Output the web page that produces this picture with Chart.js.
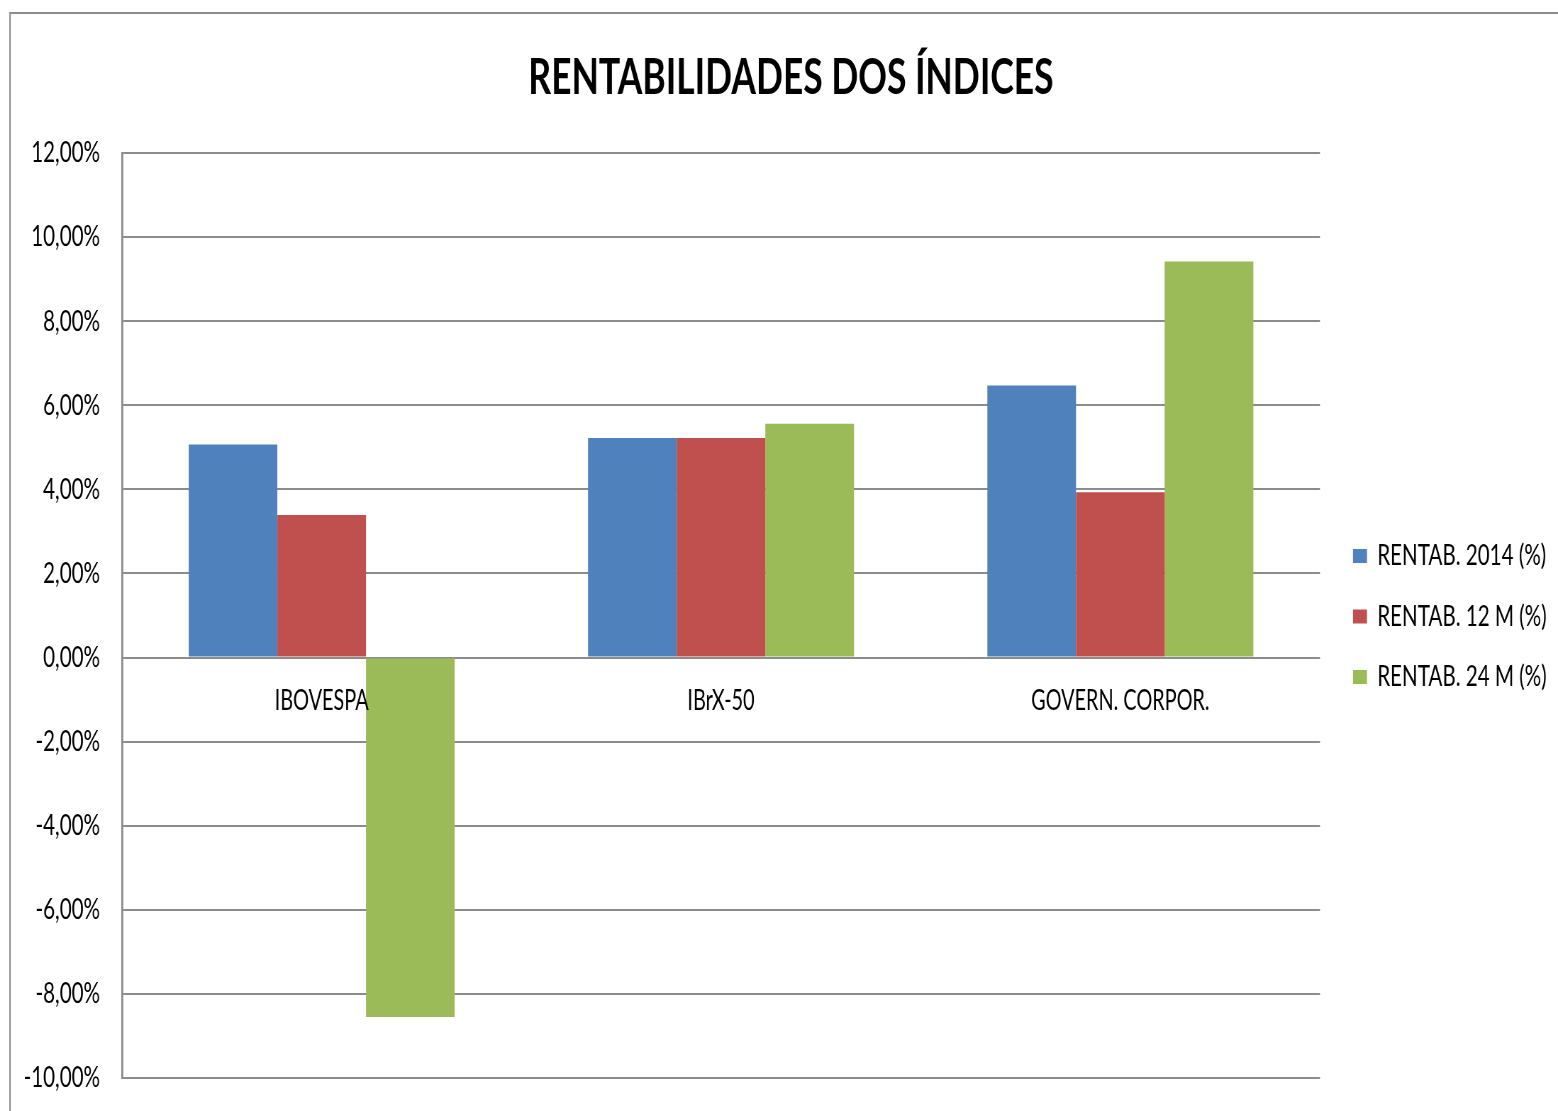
<!DOCTYPE html>
<html>
<head>
<meta charset="utf-8">
<script src="https://cdn.jsdelivr.net/npm/chart.js@4"></script>
<style>
  html, body { margin: 0; padding: 0; background: #fff; overflow: hidden; }
</style>
</head>
<body>
<!-- the original is squeezed sideways, so draw wide and squeeze the canvas -->
<canvas id="rentChart" width="2197" height="1111" style="display:block;width:1558px;height:1111px"></canvas>
<script>
// chart data
const categories = ['IBOVESPA', 'IBrX-50', 'GOVERN. CORPOR.'];
const rentab2014 = [5.07, 5.22, 6.47];
const rentab12m = [3.39, 5.22, 3.93];
const rentab24m = [-8.55, 5.56, 9.42];
const seriesNames = ['RENTAB. 2014 (%)', 'RENTAB. 12 M (%)', 'RENTAB. 24 M (%)'];
const yTicks = { min: -10, max: 12, step: 2 };

const SX = 2197 / 1558;   // horizontal squeeze
const FONT = "Lato, 'Open Sans', sans-serif";
const GRID = '#8c8c8c';
const LEGEND_W = (1558 - 1320) * SX;

// outer frame of the chart object
const framePlugin = {
    id: 'frame',
    beforeDraw(chart) {
        const c = chart.ctx;
        c.save();
        c.strokeStyle = GRID;
        c.lineWidth = 2;
        c.beginPath();
        c.moveTo(10 * SX, chart.height + 5);
        c.lineTo(10 * SX, 13);
        c.lineTo(chart.width + 5, 13);
        c.stroke();
        c.restore();
    }
};

// category labels sit just under the zero line
const catLabels = {
    id: 'catLabels',
    afterDatasetsDraw(chart) {
        const x = chart.scales.x, y = chart.scales.y;
        const c = chart.ctx;
        const y0 = y.getPixelForValue(0) + 43;
        c.save();
        c.font = '28px ' + FONT;
        c.fillStyle = '#000';
        c.textAlign = 'center';
        c.textBaseline = 'middle';
        categories.forEach((lbl, i) => {
            c.fillText(lbl, x.getPixelForValue(i), y0);
        });
        c.restore();
    }
};

// nudge the legend a little to the right like in excel
const legendNudge = {
    id: 'legendNudge',
    afterLayout(chart) {
        const lg = chart.legend;
        lg.left += 15; lg.right += 15;
        lg.top += 1; lg.bottom += 1;
    }
};

let ctx = document.getElementById('rentChart').getContext('2d');
let rentChart = new Chart(ctx, {
    type: 'bar',
    data: {
        labels: categories,
        datasets: [
            { label: seriesNames[0], data: rentab2014, backgroundColor: '#4F81BD' },
            { label: seriesNames[1], data: rentab12m, backgroundColor: '#C0504D' },
            { label: seriesNames[2], data: rentab24m, backgroundColor: '#9BBB59' }
        ]
    },
    options: {
        responsive: false,
        animation: false,
        devicePixelRatio: 1,
        datasets: {
            bar: { categoryPercentage: 0.666, barPercentage: 1.0 }
        },
        layout: { padding: { left: 24 * SX, right: 0, top: 0, bottom: 33 } },
        scales: {
            x: { display: false },
            y: {
                min: yTicks.min,
                max: yTicks.max,
                afterFit(scale) { scale.width = (122 - 24) * SX; },
                grid: {
                    color: GRID, lineWidth: 2,
                    drawTicks: true, tickLength: 22 * SX, tickColor: 'rgba(0,0,0,0)'
                },
                border: { color: GRID, width: 2 * SX },
                ticks: {
                    stepSize: yTicks.step,
                    padding: 0,
                    color: '#000',
                    font: { family: FONT, size: 29 },
                    callback: v => v.toFixed(2).replace('.', ',') + '%'
                }
            }
        },
        plugins: {
            title: {
                display: true,
                text: 'RENTABILIDADES DOS ÍNDICES',
                color: '#000',
                font: { family: FONT, size: 50, weight: 'bold' },
                padding: { top: 48, bottom: 45 }
            },
            legend: {
                position: 'right',
                fullSize: false,
                labels: {
                    boxWidth: 14 * SX,
                    boxHeight: 14,
                    padding: 31.5,
                    color: '#000',
                    font: { family: FONT, size: 29 }
                }
            },
            tooltip: { enabled: false }
        }
    },
    plugins: [framePlugin, catLabels, legendNudge]
});

// force the legend column to the width it has in the original
const lg = rentChart.legend;
const baseFit = lg.fit.bind(lg);
lg.fit = function () { baseFit(); this.width = LEGEND_W; };
rentChart.update();
</script>
</body>
</html>
